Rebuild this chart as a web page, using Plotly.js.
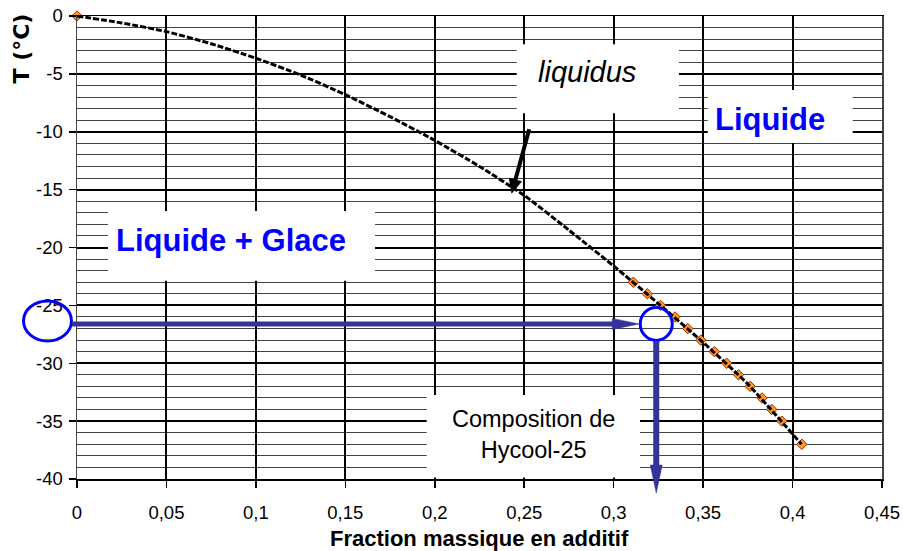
<!DOCTYPE html>
<html>
<head>
<meta charset="utf-8">
<script src="https://cdn.plot.ly/plotly-3.0.1.min.js"></script>
<style>html,body{margin:0;padding:0;background:#fff;}#chart{width:903px;height:551px;}</style>
</head>
<body>
<div id="chart"></div>
<script>
// ---------- data ----------
const measX = [0, 0.311, 0.3188, 0.3262, 0.3343, 0.3414, 0.3487, 0.3563, 0.3632, 0.3698, 0.3763, 0.3829, 0.3884, 0.394, 0.4052];
const measT = [0, -23, -24, -25, -26, -27, -28, -29, -30, -31, -32, -33, -34, -35, -37];
const fitX = [0, 0.025, 0.05, 0.075, 0.1, 0.125, 0.15, 0.175, 0.2, 0.225, 0.25, 0.275, 0.3, 0.325, 0.35, 0.375, 0.405];
const fitT = [0, -0.6, -1.35, -2.4, -3.65, -5.1, -6.8, -8.7, -10.75, -13.0, -15.5, -18.5, -21.6, -24.85, -28.2, -31.8, -37];
const xTickVals = [0, 0.05, 0.1, 0.15, 0.2, 0.25, 0.3, 0.35, 0.4, 0.45];
const xTickText = ['0', '0,05', '0,1', '0,15', '0,2', '0,25', '0,3', '0,35', '0,4', '0,45'];
const yTickVals = [0, -5, -10, -15, -20, -25, -30, -35, -40];
const yTickText = ['0', '-5', '-10', '-15', '-20', '-25', '-30', '-35', '-40'];
const xTitle = 'Fraction massique en additif';
const yTitle = 'T (°C)';
const hycoolX = 0.3238, hycoolT = -26.6;   // point read for Hycool-25

// ---------- geometry ----------
const W = 903, H = 551;
const M = {l: 77, r: 21, t: 16, b: 72};
const PW = W - M.l - M.r, PH = H - M.t - M.b;
const XR = [0, 0.45], YR = [-40, 0];
const px = x => M.l + (x - XR[0]) / (XR[1] - XR[0]) * PW;
const py = y => M.t + (YR[1] - y) / (YR[1] - YR[0]) * PH;
const pX = p => (p - M.l) / PW;
const pY = p => (M.t + PH - p) / PH;

const shapes = [];
function box(x0, x1, t0, t1) {
  shapes.push({type: 'rect', xref: 'paper', yref: 'paper', layer: 'above',
    x0: pX(px(x0)), x1: pX(px(x1)), y0: pY(py(t0)), y1: pY(py(t1)),
    fillcolor: '#ffffff', line: {width: 0}});
}
function arrow(x0, y0, x1, y1, w, hl, hw, color) {
  const dx = x1 - x0, dy = y1 - y0, len = Math.hypot(dx, dy);
  const ux = dx / len, uy = dy / len;
  const bx = x1 - ux * hl, by = y1 - uy * hl;
  const nx = -uy, ny = ux;
  shapes.push({type: 'line', xref: 'paper', yref: 'paper', layer: 'above',
    x0: pX(x0), y0: pY(y0), x1: pX(bx + ux * 1), y1: pY(by + uy * 1), line: {color: color, width: w}});
  const pts = [[x1, y1], [bx + nx * hw, by + ny * hw], [bx - nx * hw, by - ny * hw]];
  shapes.push({type: 'path', xref: 'paper', yref: 'paper', layer: 'above',
    path: 'M' + pts.map(p => pX(p[0]) + ',' + pY(p[1])).join('L') + 'Z',
    fillcolor: color, line: {color: color, width: 0.5}});
}
function ellipse(cx, cy, rx, ry, color, w) {
  shapes.push({type: 'circle', xref: 'paper', yref: 'paper', layer: 'above',
    x0: pX(cx - rx), x1: pX(cx + rx), y0: pY(cy + ry), y1: pY(cy - ry),
    line: {color: color, width: w}});
}

// text boxes
box(0.2458, 0.3365, -2.45, -8.4);      // liquidus
box(0.3526, 0.4336, -6.4, -10.98);     // Liquide
box(0.0173, 0.1666, -16.85, -22.87);   // Liquide + Glace
box(0.1955, 0.3147, -32.75, -39.88);   // Composition

// arrows and circles
const blue = '#333399';
const hx = px(hycoolX), hy = py(hycoolT);
const rC = 16;
ellipse(hx, hy, rC, rC + 0.5, '#0000ff', 3);
ellipse(px(0) - 29.5, hy - 3, 24, 20, '#0000ff', 3);
arrow(px(0) - 5, hy, hx - rC - 1, hy, 5, 27, 5.5, blue);
arrow(hx, hy + rC + 1, hx, py(-40) + 14, 6, 28, 6, blue);
arrow(px(0.2528), py(-9.79), px(0.2430), py(-15.32), 4, 14, 6.5, '#000000');

const annotations = [
  {text: '<i>liquidus</i>', x: 0.2851, y: -4.82, font: {family: 'Liberation Sans, Arial', size: 29, color: '#000'}},
  {text: '<b>Liquide</b>', x: 0.3872, y: -8.92, font: {family: 'Liberation Sans, Arial', size: 31, color: '#0000ff'}},
  {text: '<b>Liquide + Glace</b>', x: 0.086, y: -19.42, font: {family: 'Liberation Sans, Arial', size: 31, color: '#0000ff'}},
  {text: 'Composition de<br>Hycool-25', x: 0.2553, y: -36.18, font: {family: 'Liberation Sans, Arial', size: 23.5, color: '#000'}}
].map(a => Object.assign({xref: 'x', yref: 'y', showarrow: false, xanchor: 'center', yanchor: 'middle'}, a));

annotations.push({text: '<b>' + xTitle + '</b>', xref: 'paper', yref: 'paper', x: pX(479.5), y: pY(538.5),
  xanchor: 'center', yanchor: 'middle', showarrow: false,
  font: {family: 'Liberation Sans, Arial', size: 22, color: '#000'}});
annotations.push({text: '<b>' + yTitle + '</b>', xref: 'paper', yref: 'paper', x: pX(21.5), y: pY(49),
  xanchor: 'center', yanchor: 'middle', textangle: -90, showarrow: false,
  font: {family: 'DejaVu Sans', size: 22, color: '#000'}});

const traces = [
  {x: measX, y: measT, type: 'scatter', mode: 'markers', cliponaxis: false,
   marker: {symbol: 'diamond', size: 8, color: '#ff9922', line: {color: '#aa2200', width: 1}}},
  {x: fitX, y: fitT, type: 'scatter', mode: 'lines',
   line: {color: '#000', width: 3, dash: '6px,2px', shape: 'spline', smoothing: 0.6}}
];

const tickFont = {family: 'Liberation Sans, Arial', size: 18.5, color: '#000'};
const layout = {
  width: W, height: H, margin: M, showlegend: false,
  paper_bgcolor: '#fff', plot_bgcolor: '#fff',
  xaxis: {range: XR, tickmode: 'array', tickvals: xTickVals, ticktext: xTickText,
    showgrid: true, gridcolor: '#000', gridwidth: 2, zeroline: false,
    showline: true, linecolor: '#000', linewidth: 1.5, mirror: true,
    ticks: 'outside', ticklen: 7, tickwidth: 1.5, tickcolor: '#000',
    tickfont: tickFont, ticklabelstandoff: 9},
  yaxis: {range: YR, tickmode: 'array', tickvals: yTickVals, ticktext: yTickText,
    showgrid: true, gridcolor: '#000', gridwidth: 2, zeroline: false,
    showline: true, linecolor: '#444', linewidth: 1.5, mirror: true,
    ticks: 'outside', ticklen: 7, tickwidth: 1.5, tickcolor: '#000',
    tickfont: tickFont, ticklabelstandoff: 2,
    minor: {tickmode: 'linear', tick0: 0, dtick: 1, showgrid: true, gridcolor: '#444', gridwidth: 1, ticks: ''}},
  shapes: shapes, annotations: annotations
};
Plotly.newPlot('chart', traces, layout, {staticPlot: true, displayModeBar: false});
</script>
</body>
</html>
